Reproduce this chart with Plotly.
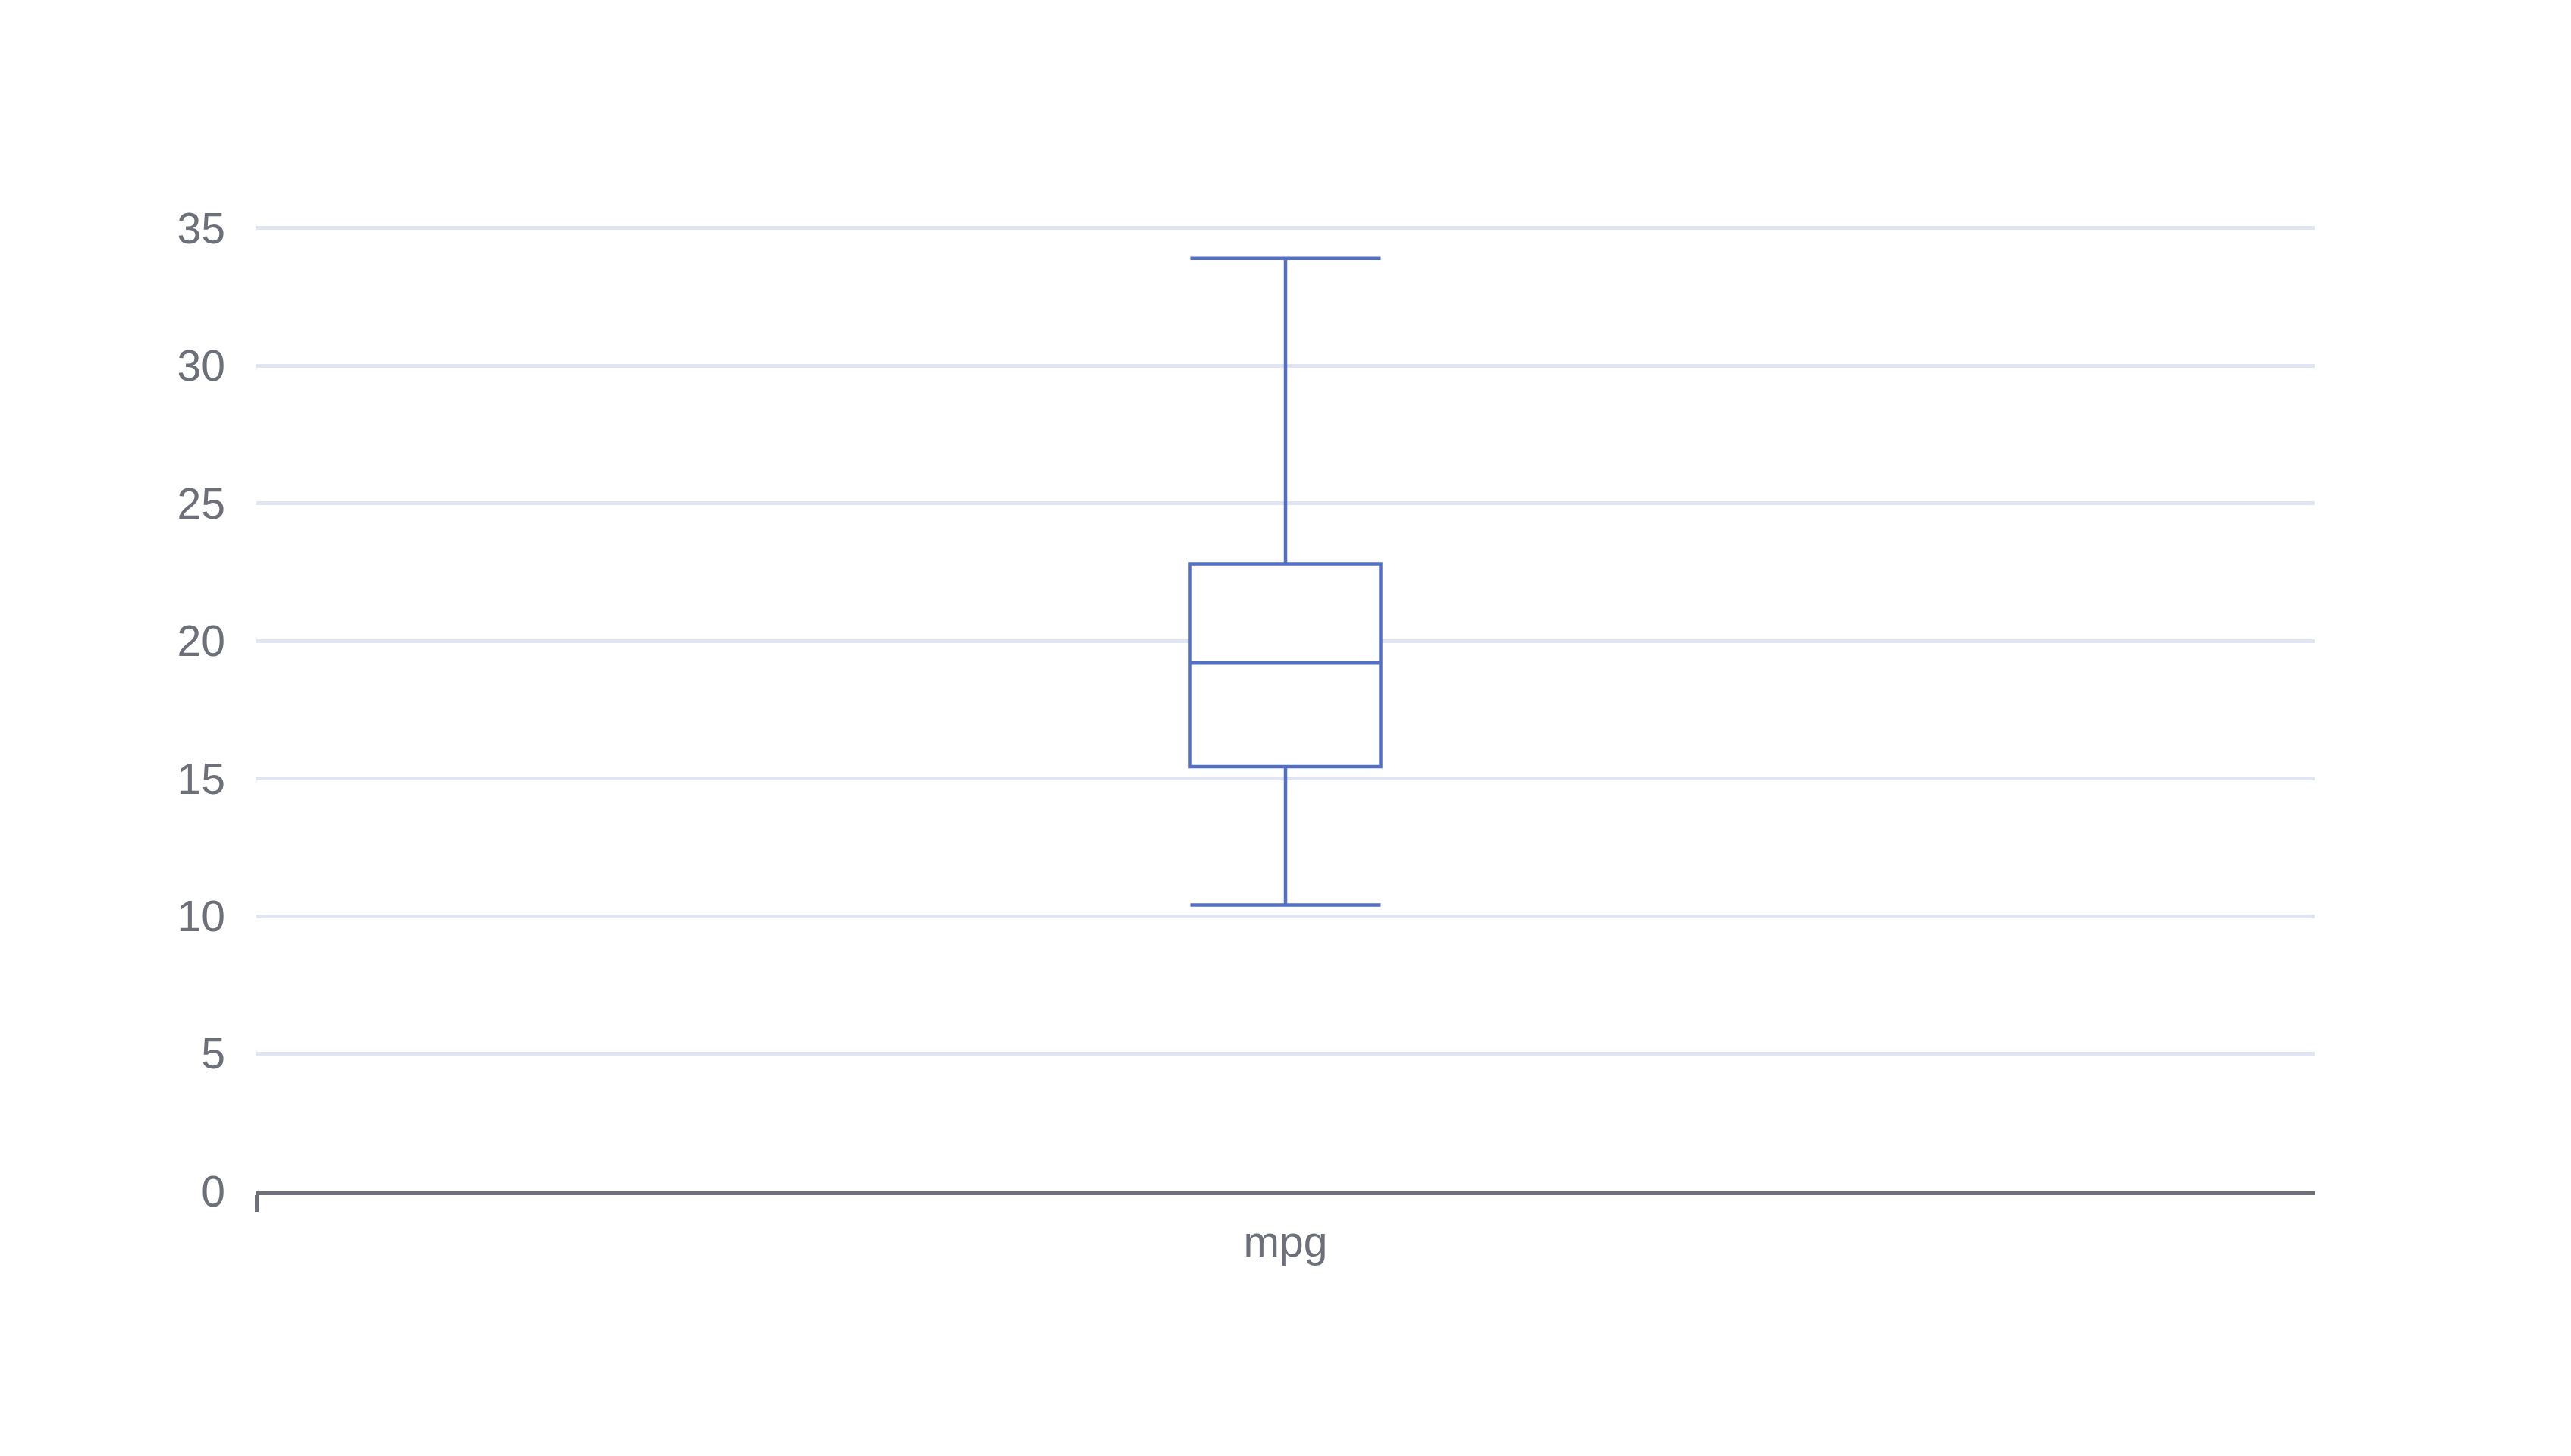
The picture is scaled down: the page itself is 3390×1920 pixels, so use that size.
import plotly.graph_objects as go

# summary stats of the mpg column
names = ["mpg"]
positions = [0]
lower_fence = [10.4]
q1 = [15.43]
median = [19.2]
q3 = [22.8]
upper_fence = [33.9]

y_ticks = [0, 5, 10, 15, 20, 25, 30, 35]

text_color = "#6E7079"
grid_color = "#E0E6F1"
box_color = "#5470C6"

fig = go.Figure()
fig.add_trace(go.Box(
    x=positions,
    name=names[0],
    q1=q1,
    median=median,
    q3=q3,
    lowerfence=lower_fence,
    upperfence=upper_fence,
    width=0.0925,
    whiskerwidth=1,
    fillcolor="white",
    line=dict(color=box_color, width=4.5),
    boxpoints=False,
    hoverinfo="y",
))

fig.update_layout(
    width=3390,
    height=1920,
    margin=dict(l=330, r=346, t=291, b=357),
    paper_bgcolor="white",
    plot_bgcolor="white",
    showlegend=False,
    font=dict(family="Liberation Sans, Arial, sans-serif", size=57, color=text_color),
)

fig.update_xaxes(
    range=[-0.5, 0.5],
    tickmode="array",
    tickvals=positions,
    ticktext=names,
    ticks="",
    showgrid=False,
    zeroline=False,
    showline=True,
    linecolor=text_color,
    linewidth=4.5,
    ticklabelstandoff=13,
    minor=dict(tickmode="array", tickvals=[-0.5], ticks="outside",
               ticklen=22, tickwidth=4.5, tickcolor=text_color, showgrid=False),
)

fig.update_yaxes(
    range=[0, 35.05],
    tickmode="array",
    tickvals=y_ticks,
    showgrid=True,
    gridcolor=grid_color,
    gridwidth=4.5,
    zeroline=False,
    showline=False,
    ticks="",
    ticklabelstandoff=40,
)

fig.write_html("out.html")
